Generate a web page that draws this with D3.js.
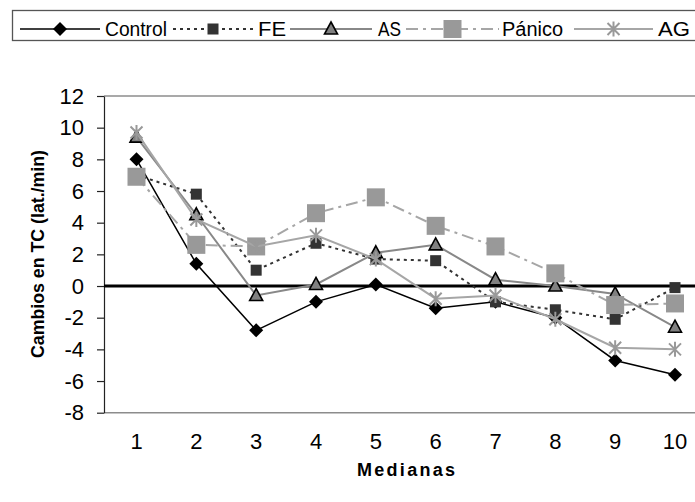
<!DOCTYPE html>
<html>
<head>
<meta charset="utf-8">
<script src="https://cdn.jsdelivr.net/npm/d3@7"></script>
<style>
  body { margin: 0; background: #fff; }
  svg { font-family: "Liberation Sans", Arial, sans-serif; }
</style>
</head>
<body>
<div id="chart"></div>
<script>
// medianas 1..10
var cats = [1, 2, 3, 4, 5, 6, 7, 8, 9, 10];
var yTicks = [-8, -6, -4, -2, 0, 2, 4, 6, 8, 10, 12];

// cambios en TC
var control = [8.0, 1.4, -2.8, -1.0, 0.1, -1.4, -1.0, -2.0, -4.7, -5.6];
var fe      = [7.0, 5.8, 1.0, 2.7, 1.7, 1.6, -1.0, -1.5, -2.1, -0.1];
var as      = [9.4, 4.5, -0.6, 0.1, 2.1, 2.6, 0.4, 0.0, -0.5, -2.6];
var panico  = [6.9, 2.6, 2.5, 4.6, 5.6, 3.8, 2.5, 0.8, -1.2, -1.1];
var ag      = [9.7, 4.2, 2.5, 3.2, 1.7, -0.8, -0.6, -2.1, -3.9, -4.0];

var seriesNames = ["Control", "FE", "AS", "Pánico", "AG"];
var seriesVals = [control, fe, as, panico, ag];

var W = 695, H = 502;
var svg = d3.select("#chart").append("svg")
	.attr("width", W)
	.attr("height", H);

var x = d3.scalePoint().domain(cats).range([136.5, 675]);
var y = d3.scaleLinear().domain([-8, 12]).range([412.7, 96]);

// styles for each series
var styles = [
	{ line: "#000", width: 1.5, dash: null, marker: "diamond" },
	{ line: "#333", width: 2, dash: "3,4", marker: "smallsquare" },
	{ line: "#888", width: 2, dash: null, marker: "triangle" },
	{ line: "#a6a6a6", width: 2, dash: "12,5,3,5", marker: "bigsquare" },
	{ line: "#a6a6a6", width: 2, dash: null, marker: "star" }
];

function drawMarker(g, type) {
	if (type == "diamond") {
		g.append("path").attr("d", "M0,-7L7,0L0,7L-7,0Z").attr("fill", "#000");
	} else if (type == "smallsquare") {
		g.append("rect").attr("x", -5.5).attr("y", -5.5).attr("width", 11).attr("height", 11)
			.attr("fill", "#333");
	} else if (type == "triangle") {
		g.append("path").attr("d", "M0,-7L6.5,5L-6.5,5Z")
			.attr("fill", "#808080").attr("stroke", "#000").attr("stroke-width", 1.6);
	} else if (type == "bigsquare") {
		g.append("rect").attr("x", -9).attr("y", -9).attr("width", 18).attr("height", 18)
			.attr("fill", "#999");
	} else if (type == "star") {
		g.append("path").attr("d", "M-6,-6L6,6M-6,6L6,-6M0,-7.5L0,7.5")
			.attr("stroke", "#999").attr("stroke-width", 2).attr("fill", "none");
	}
}

// plot frame: top and bottom border grey, left axis dark
svg.append("line").attr("x1", 104).attr("x2", W).attr("y1", y(12)).attr("y2", y(12))
	.attr("stroke", "#8c8c8c").attr("stroke-width", 1.5);
svg.append("line").attr("x1", 104).attr("x2", W).attr("y1", y(-8)).attr("y2", y(-8))
	.attr("stroke", "#8c8c8c").attr("stroke-width", 1.5);

// plain hyphen for negatives, like the original
var yAxis = svg.append("g")
	.attr("transform", "translate(104,0)")
	.call(d3.axisLeft(y).tickValues(yTicks).tickSize(7).tickPadding(13).tickSizeOuter(0)
		.tickFormat(function(d) { return String(d); }));
yAxis.select(".domain").attr("stroke", "#222").attr("stroke-width", 1.2);
yAxis.selectAll(".tick line").attr("stroke", "#222").attr("stroke-width", 1.2);
yAxis.selectAll(".tick text")
	.attr("font-size", 22)
	.attr("font-family", "Liberation Sans, Arial, sans-serif")
	.attr("fill", "#000");

// zero line
svg.append("line").attr("x1", 104).attr("x2", W).attr("y1", y(0)).attr("y2", y(0))
	.attr("stroke", "#000").attr("stroke-width", 3);

// x labels (no ticks)
svg.selectAll(".xlab")
	.data(cats)
	.enter().append("text")
	.attr("class", "xlab")
	.attr("x", function(d) { return x(d); })
	.attr("y", 449)
	.attr("text-anchor", "middle")
	.attr("font-size", 22)
	.text(function(d) { return d; });

// series
var line = d3.line()
	.x(function(d, i) { return x(cats[i]); })
	.y(function(d) { return y(d); });

seriesVals.forEach(function(vals, s) {
	var st = styles[s];
	svg.append("path")
		.datum(vals)
		.attr("d", line)
		.attr("fill", "none")
		.attr("stroke", st.line)
		.attr("stroke-width", st.width)
		.attr("stroke-dasharray", st.dash);
	svg.selectAll(".m" + s)
		.data(vals)
		.enter().append("g")
		.attr("class", "m" + s)
		.attr("transform", function(d, i) { return "translate(" + x(cats[i]) + "," + y(d) + ")"; })
		.each(function() { drawMarker(d3.select(this), st.marker); });
});

// axis titles
svg.append("text")
	.attr("transform", "translate(44,254) rotate(-90)")
	.attr("text-anchor", "middle")
	.attr("font-size", 18)
	.attr("font-weight", "bold")
	.attr("textLength", 208)
	.attr("lengthAdjust", "spacingAndGlyphs")
	.text("Cambios en TC (lat./min)");

svg.append("text")
	.attr("x", 406)
	.attr("y", 476)
	.attr("text-anchor", "middle")
	.attr("font-size", 18)
	.attr("font-weight", "bold")
	.attr("textLength", 98)
	.attr("lengthAdjust", "spacing")
	.text("Medianas");

// legend
var legX = [[20, 100, 105, 62], [173, 253, 258, 28], [290, 372, 378, 23], [406, 499, 502, 61], [574, 653, 658, 32]];
var legend = svg.append("g");
legend.append("rect")
	.attr("x", 12.5).attr("y", 10.5)
	.attr("width", 720).attr("height", 30)
	.attr("fill", "#fff")
	.attr("stroke", "#555")
	.attr("stroke-width", 1.3);

seriesNames.forEach(function(name, s) {
	var st = styles[s], p = legX[s];
	legend.append("line")
		.attr("x1", p[0]).attr("x2", p[1]).attr("y1", 29).attr("y2", 29)
		.attr("stroke", st.line)
		.attr("stroke-width", st.width)
		.attr("stroke-dasharray", st.dash);
	var mg = legend.append("g").attr("transform", "translate(" + ((p[0] + p[1]) / 2) + ",29)");
	drawMarker(mg, st.marker);
	legend.append("text")
		.attr("x", p[2]).attr("y", 35.5)
		.attr("font-size", 20)
		.attr("textLength", p[3])
		.attr("lengthAdjust", "spacingAndGlyphs")
		.text(name);
});
</script>
</body>
</html>
